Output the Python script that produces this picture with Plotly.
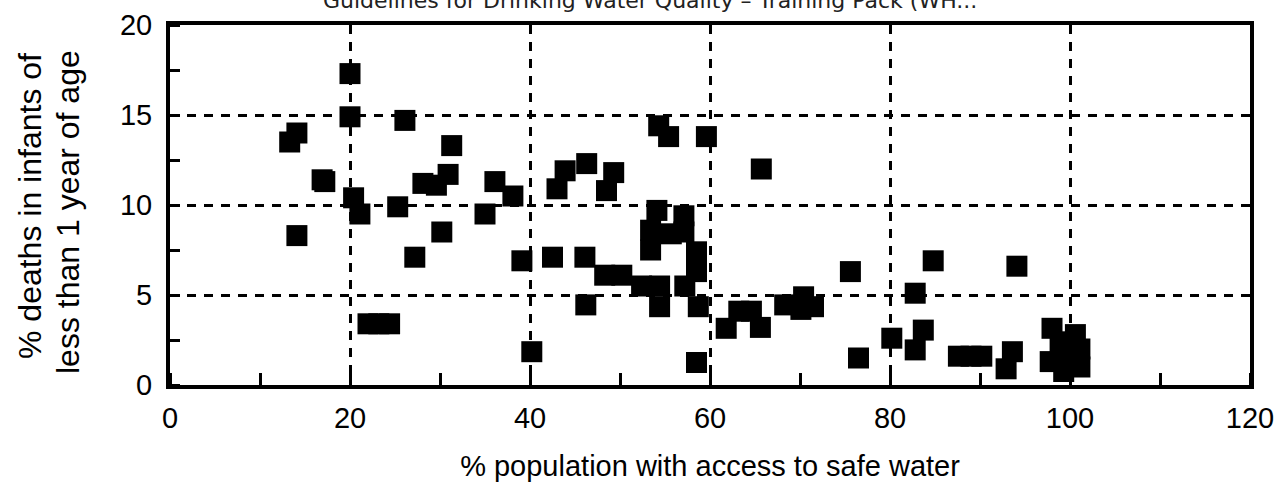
import plotly.graph_objects as go

# % population with access to safe water
access = [20.0, 20.0, 26.1, 14.1, 13.3, 31.3, 16.9, 17.2, 20.4, 21.1, 25.3, 14.1,
          28.1, 29.6, 30.9, 30.2, 27.2, 36.1, 38.1, 35.0, 39.1, 40.2, 22.0, 23.2, 24.4,
          43.0, 43.9, 46.3, 42.5, 46.1, 48.5, 49.3, 46.2, 48.3, 50.2, 52.4, 54.4, 54.4,
          57.2, 58.7, 54.1, 57.1, 53.4, 53.4, 55.7, 57.1, 58.5, 58.5, 58.5, 54.3, 55.4,
          59.6, 65.7, 61.8, 63.2, 64.6, 65.6, 68.3, 70.4, 71.5, 70.1, 75.6, 76.5, 80.2,
          82.8, 83.7, 82.8, 84.8, 87.6, 89.0, 90.2, 93.6, 92.9, 94.1, 98.0, 97.8, 98.9,
          100.6, 101.1, 101.1, 99.3, 99.6]
# % deaths in infants of less than 1 year of age
deaths = [17.3, 14.9, 14.7, 14.0, 13.5, 13.3, 11.4, 11.3, 10.4, 9.5, 9.9, 8.3,
          11.2, 11.1, 11.7, 8.5, 7.1, 11.3, 10.5, 9.5, 6.9, 1.85, 3.4, 3.4, 3.4,
          10.9, 11.9, 12.3, 7.1, 7.1, 10.8, 11.8, 4.45, 6.1, 6.1, 5.5, 5.5, 4.35,
          5.5, 4.35, 9.7, 9.4, 8.6, 7.5, 8.4, 8.5, 7.4, 6.3, 1.25, 14.4, 13.8,
          13.8, 12.0, 3.15, 4.1, 4.1, 3.2, 4.45, 4.9, 4.35, 4.2, 6.3, 1.5, 2.6,
          5.1, 3.05, 1.95, 6.9, 1.6, 1.6, 1.6, 1.85, 0.9, 6.6, 3.15, 1.3, 2.4,
          2.8, 2.0, 1.0, 0.75, 1.75]

x_ticks = [0, 20, 40, 60, 80, 100, 120]
y_ticks = [0, 5, 10, 15, 20]

title_text = "Guidelines for Drinking Water Quality – Training Pack (WH..."
x_title = "% population with access to safe water"
y_title_lines = ["% deaths in infants of", "less than 1 year of age"]

FONT = "Liberation Sans, Arial, sans-serif"

fig = go.Figure()
fig.add_trace(go.Scatter(
    x=access, y=deaths, mode="markers",
    marker=dict(symbol="square", size=21, color="black",
                line=dict(width=0)),
    showlegend=False, cliponaxis=True,
))

grid = dict(showgrid=True, gridcolor="black", gridwidth=2.5, griddash="9px,8px")

fig.update_xaxes(
    range=[0, 120], tickvals=x_ticks, ticktext=[str(v) for v in x_ticks],
    ticks="", ticklabelstandoff=4,
    tickfont=dict(family=FONT, size=29, color="black"),
    showline=True, mirror=True, linecolor="black", linewidth=4,
    zeroline=False,
    minor=dict(dtick=10, tick0=0, ticks="inside", ticklen=12, tickwidth=3,
               tickcolor="black", showgrid=False),
    title=dict(text=x_title, font=dict(family=FONT, size=29, color="black"),
               standoff=24),
    **grid,
)
fig.update_yaxes(
    range=[0, 20], tickvals=y_ticks, ticktext=[str(v) for v in y_ticks],
    ticks="", ticklabelstandoff=8,
    tickfont=dict(family=FONT, size=29, color="black"),
    showline=True, mirror=True, linecolor="black", linewidth=4,
    zeroline=False,
    minor=dict(dtick=2.5, tick0=0, ticks="inside", ticklen=10, tickwidth=3,
               tickcolor="black", showgrid=False),
    **grid,
)

# y-axis title, two rotated lines
for line, cx, cy in zip(y_title_lines, [30, 68], [206, 212]):
    fig.add_annotation(
        text=line, xref="paper", yref="paper",
        x=(cx - 170) / 1080, y=(385 - cy) / 360,
        xanchor="center", yanchor="middle", textangle=-90, showarrow=False,
        font=dict(family=FONT, size=32, color="black"),
    )

fig.add_annotation(
    text=title_text, xref="paper", yref="paper",
    x=(650 - 170) / 1080, y=(385 - 15) / 360,
    xanchor="center", yanchor="bottom", showarrow=False,
    font=dict(family="DejaVu Sans", size=22, color="#222222"),
)

fig.update_layout(
    width=1283, height=494,
    margin=dict(l=170, r=33, t=25, b=109, autoexpand=False),
    paper_bgcolor="white", plot_bgcolor="white",
)

fig.write_html("out.html", config={"displayModeBar": False},
               post_script="document.body.style.margin='0px';")
